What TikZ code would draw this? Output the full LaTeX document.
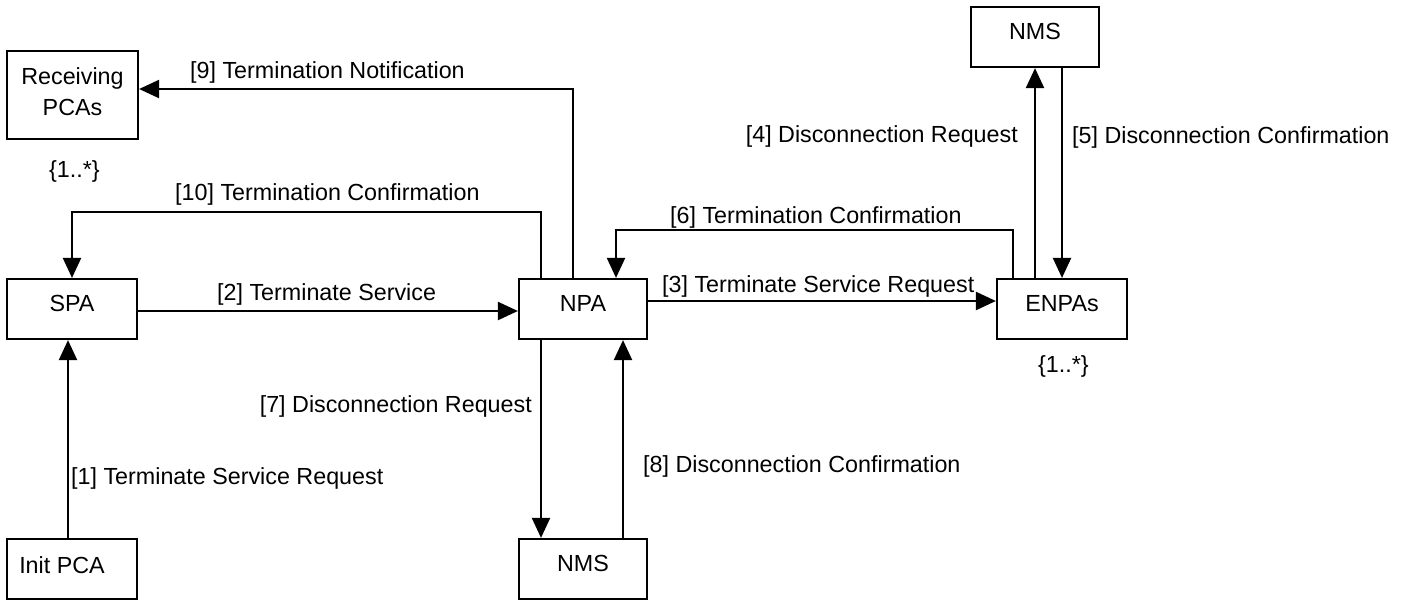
\documentclass[tikz,border=0pt]{standalone}
\usepackage{fontspec}
\setmainfont{Liberation Sans}
\usetikzlibrary{arrows.meta}
\begin{document}
\begin{tikzpicture}[x=1pt,y=-1pt,
  every node/.style={font=\fontsize{23.3}{31}\selectfont},
  box/.style={draw, line width=2.2pt, inner sep=0pt, minimum width=130pt, minimum height=60pt, text height=4pt, text depth=0pt},
  lbl/.style={inner sep=0pt},
  arr/.style={line width=2.2pt, -{Triangle[length=20pt,width=18pt]}},
  ]
\useasboundingbox (0,0) rectangle (1407,603);
% boxes
\node[box, minimum width=131pt, minimum height=88pt, text height=0pt, text depth=20.6pt] (recv) at (72.5,95) {\begin{tabular}[t]{@{}c@{}}Receiving\\PCAs\end{tabular}};
\node[box] (spa) at (72,309) {SPA};
\node[box, text height=9pt] (init) at (72,569) {Init PCA\kern20pt};
\node[box, minimum width=128pt] (npa) at (583,309) {NPA};
\node[box, minimum width=128pt] (nmsb) at (583,569) {NMS};
\node[box] (enpa) at (1062,309) {ENPAs};
\node[box, minimum width=128pt] (nmst) at (1035,37) {NMS};
% labels
\node[lbl, anchor=base west] (l9) at (190,78) {[9] Termination Notification};
\node[lbl, anchor=base west] (l10) at (175,200) {[10] Termination Confirmation};
\node[lbl, anchor=base west] (l2) at (217,300) {[2] Terminate Service};
\node[lbl, anchor=base west] (l3) at (662,292) {[3] Terminate Service Request};
\node[lbl, anchor=base west] (l6) at (670,223) {[6] Termination Confirmation};
\node[lbl, anchor=base east] (l4) at (1018,142) {[4] Disconnection Request};
\node[lbl, anchor=base west] (l5) at (1072,143) {[5] Disconnection Confirmation};
\node[lbl, anchor=base east] (l7) at (532,412) {[7] Disconnection Request};
\node[lbl, anchor=base west] (l1) at (71,484) {[1] Terminate Service Request};
\node[lbl, anchor=base west] (l8) at (643,472) {[8] Disconnection Confirmation};
\node[lbl, anchor=base west] (m1) at (49,177) {\{1..*\}};
\node[lbl, anchor=base west] (m2) at (1038,372) {\{1..*\}};
% connectors
\draw[arr] ([xshift=-4pt]init.north) -- ([xshift=-4pt]spa.south);
\draw[arr] ([yshift=-2pt]spa.east) -- ([yshift=-2pt]npa.west);
\draw[arr] ([yshift=8pt]npa.east) -- ([yshift=8pt]enpa.west);
\draw[arr] (enpa.north -| nmst.south) -- (nmst.south);
\draw[arr] (nmst.south -| enpa.north) -- (enpa.north);
\draw[arr] ([xshift=-49pt]enpa.north) |- ([xshift=33pt,yshift=48pt]npa.north) -- ([xshift=33pt]npa.north);
\draw[arr] ([xshift=-42pt]npa.south) -- ([xshift=-42pt]nmsb.north);
\draw[arr] ([xshift=40pt]nmsb.north) -- ([xshift=40pt]npa.south);
\draw[arr] ([xshift=-10pt]npa.north) |- ([yshift=6pt]recv.east);
\draw[arr] ([xshift=-42pt]npa.north) |- ([yshift=66pt]spa.north) -- (spa.north);
\end{tikzpicture}
\end{document}
